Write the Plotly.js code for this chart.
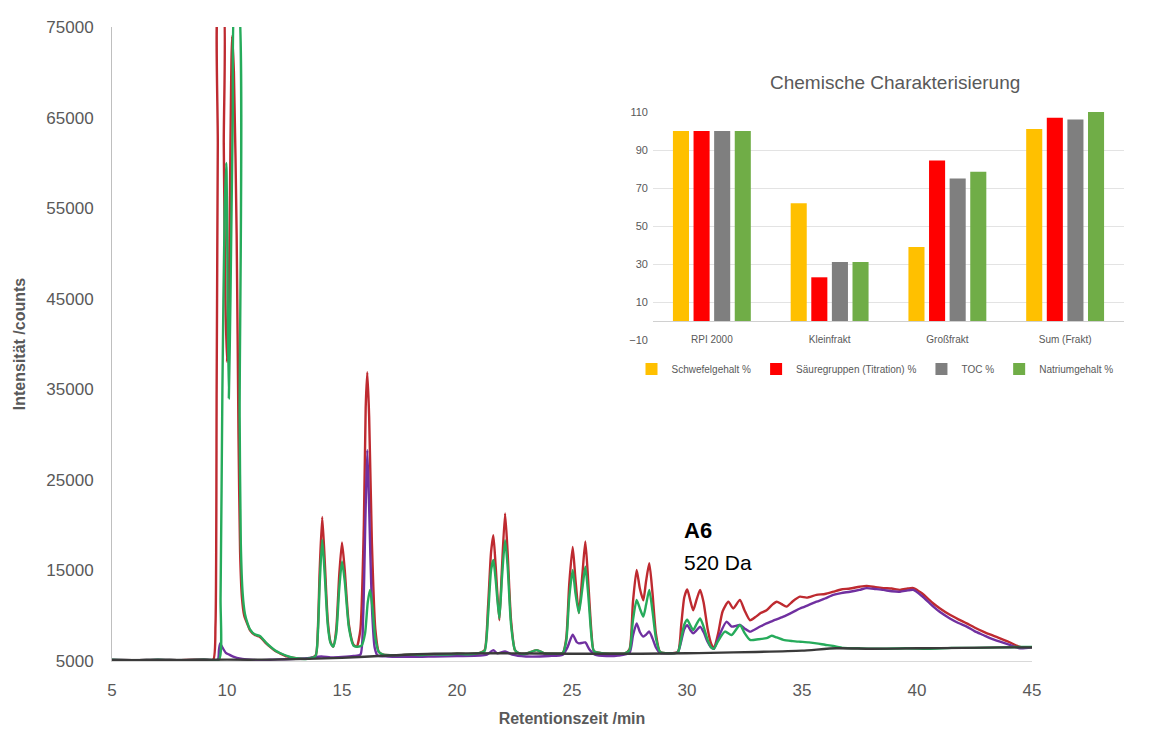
<!DOCTYPE html>
<html>
<head>
<meta charset="utf-8">
<script src="https://cdn.plot.ly/plotly-3.0.1.min.js"></script>
<style>html,body{margin:0;padding:0;background:#fff;}#chart{width:1169px;height:729px;}</style>
</head>
<body>
<div id="chart"></div>
<script>
// ---- Chromatogram (main chart) ----
const redT = [5.0,6.0,7.0,8.0,9.0,9.4,9.5,9.55,9.6,9.64,9.82,9.86,9.93,10.0,10.08,10.15,10.22,10.3,10.42,10.5,10.57,10.65,10.75,10.9,11.0,11.2,11.4,11.5,11.7,11.9,12.1,12.3,12.6,13.0,13.5,13.85,13.95,14.03,14.14,14.25,14.38,14.5,14.62,14.75,14.88,15.0,15.12,15.3,15.5,15.64,15.8,15.95,16.03,16.1,16.18,16.3,16.45,16.6,16.8,17.5,18.0,18.5,19.0,19.5,20.0,20.5,21.0,21.2,21.35,21.48,21.58,21.68,21.84,21.95,22.09,22.2,22.35,22.52,22.7,23.0,23.46,23.8,24.2,24.6,24.75,24.88,25.03,25.15,25.3,25.45,25.58,25.7,25.85,25.95,26.3,26.8,27.3,27.5,27.65,27.81,27.95,28.1,28.22,28.36,28.5,28.65,28.83,29.2,29.6,29.75,29.88,30.01,30.15,30.27,30.42,30.57,30.72,30.9,31.05,31.17,31.35,31.55,31.8,32.01,32.3,32.5,32.74,33.0,33.2,33.46,33.7,33.9,34.1,34.33,34.6,34.91,35.2,35.63,36.0,36.36,36.7,37.09,37.5,37.81,38.2,38.54,38.9,39.26,39.6,39.84,40.2,40.71,41.0,41.43,41.8,42.16,42.5,42.88,43.2,43.61,44.0,44.48,45.0];
const redI = [5150,5100,5150,5100,5150,5150,9000,35000,62000,78000,78000,62000,45000,38000,45000,62000,74000,70000,52000,30000,17000,12000,10000,9000,8400,7900,7700,7500,6950,6500,6100,5850,5500,5300,5250,5600,8500,15000,20900,16000,9500,7100,6600,8500,14500,18100,15000,9000,6800,6600,8500,20000,33000,36900,32000,18000,8500,6000,5700,5650,5700,5650,5750,5700,5800,5750,5900,6200,11000,17000,18900,15500,9500,15000,21300,17000,9500,6200,5850,5800,6200,5850,5800,5900,7500,13500,17600,14000,10300,14500,18200,14000,8000,6100,5850,5800,5850,6300,11500,15050,13000,11700,13800,15800,12500,8000,6000,5850,6000,9000,12000,12900,11600,10600,11800,12850,11500,8500,6900,6400,8000,10500,11550,10800,11750,10600,9500,9900,10300,10600,11200,11550,11300,11000,11600,12100,12000,12300,12400,12650,12900,13000,13200,13300,13150,13050,13000,12850,13000,13050,12500,11350,10800,10100,9600,9150,8700,8250,7900,7500,7100,6550,6500];

const greenT = [5.0,6.0,7.0,8.0,9.0,9.65,9.72,9.8,9.9,9.97,10.03,10.08,10.15,10.25,10.35,10.48,10.55,10.6,10.68,10.78,10.9,11.0,11.2,11.43,11.55,11.73,11.9,12.1,12.3,12.7,13.0,13.5,13.85,13.95,14.03,14.14,14.25,14.38,14.5,14.62,14.75,14.88,15.0,15.12,15.3,15.5,15.64,15.85,16.0,16.12,16.22,16.32,16.45,16.6,16.8,17.5,18.0,18.5,19.0,19.5,20.0,20.5,21.0,21.2,21.35,21.48,21.58,21.68,21.84,21.95,22.09,22.2,22.35,22.52,22.7,23.0,23.46,23.8,24.2,24.6,24.75,24.88,25.03,25.15,25.3,25.45,25.58,25.7,25.85,25.95,26.3,26.8,27.3,27.5,27.65,27.81,27.95,28.1,28.22,28.36,28.5,28.65,28.83,29.2,29.6,29.75,29.88,30.01,30.15,30.27,30.42,30.57,30.72,30.9,31.05,31.17,31.35,31.65,31.94,32.3,32.5,32.74,33.1,33.46,33.68,33.9,34.19,34.6,34.91,35.3,35.63,36.0,36.36,36.8,37.5,38.5,39.5,40.5,41.5,42.5,43.5,44.5,45.0];
const greenI = [5150,5100,5150,5100,5150,5150,12000,35000,55000,60000,45000,34000,45000,65000,78000,78000,32000,18000,12500,10200,9100,8500,7950,7750,7450,6950,6550,6150,5880,5480,5300,5250,5550,8000,13500,18400,14500,9000,7000,6580,8000,13000,16000,13800,8700,6700,6580,6700,8000,11500,12850,11000,7500,6000,5700,5650,5700,5650,5750,5700,5800,5750,5900,6100,10000,15000,16150,14000,9700,14000,18350,15500,9000,6200,5850,5800,6200,5850,5800,5900,7200,12000,15050,12500,10300,13000,15400,12500,7600,6100,5850,5800,5850,6200,9500,11750,10800,9900,11200,12850,10500,7500,6000,5850,5950,7500,9000,9550,8900,8420,9100,9700,8800,7300,6500,6350,7200,8250,7870,8980,8100,7330,7400,7520,7780,7600,7330,7200,7130,7050,6950,6800,6660,6450,6400,6350,6400,6350,6450,6450,6500,6550,6550];

const purpleT = [5.0,6.0,7.0,8.0,9.0,9.6,9.65,9.7,9.8,9.95,10.1,10.27,10.6,11.0,11.5,12.0,12.5,13.0,13.5,14.1,14.5,15.0,15.5,15.8,15.92,16.02,16.1,16.18,16.3,16.42,16.55,17.0,18.0,19.0,20.0,21.0,21.3,21.58,21.75,22.09,22.4,23.0,24.0,24.6,24.8,25.03,25.2,25.3,25.45,25.58,25.75,26.0,26.5,27.0,27.5,27.65,27.81,27.95,28.1,28.22,28.36,28.5,28.65,28.83,29.3,29.6,29.75,29.88,30.01,30.15,30.27,30.42,30.57,30.72,30.9,31.05,31.17,31.4,31.72,31.94,32.3,32.5,32.74,33.1,33.46,33.8,34.19,34.6,34.91,35.3,35.63,36.0,36.36,36.7,37.09,37.5,37.81,38.2,38.54,38.9,39.26,39.6,39.84,40.2,40.71,41.0,41.43,41.8,42.16,42.5,42.88,43.2,43.61,44.0,44.48,45.0];
const purpleI = [5150,5100,5150,5100,5150,5150,6200,6950,6500,5900,5700,5480,5250,5150,5100,5150,5200,5250,5300,5500,5400,5450,5550,5700,10000,21000,28300,22000,11000,6500,5600,5500,5450,5500,5550,5600,5700,6200,5850,6050,5700,5500,5550,5700,6500,7900,7100,6950,7000,7050,6300,5700,5550,5600,5900,7800,9150,8200,7700,7900,8250,7500,6500,5900,5850,5950,7200,8500,8950,8400,8050,8400,8800,8200,7100,6500,6350,7800,9350,8800,8970,8600,8240,8700,9160,9500,9900,10400,10800,11200,11550,11900,12300,12500,12650,12850,13050,12950,12850,12700,12650,12800,12850,12200,11000,10400,9700,9200,8800,8300,7870,7500,7130,6800,6400,6500];

const blackT = [5.0,8.0,10.0,12.0,15.0,17.0,19.0,22.0,25.0,28.0,30.0,31.0,33.0,35.0,36.5,38.0,40.0,42.0,44.0,45.0];
const blackI = [5100,5120,5150,5150,5350,5600,5800,5850,5800,5800,5850,5900,6000,6150,6400,6350,6400,6450,6500,6500];

const yTicks = [5000, 15000, 25000, 35000, 45000, 55000, 65000, 75000];
const yTickLabels = ["5000", "15000", "25000", "35000", "45000", "55000", "65000", "75000"];
const xTicks = [5, 10, 15, 20, 25, 30, 35, 40, 45];

// ---- Inset bar chart ----
const insetTitle = "Chemische Charakterisierung";
const categories = ["RPI 2000", "Kleinfrakt", "Großfrakt", "Sum (Frakt)"];
const seriesNames = ["Schwefelgehalt %", "Säuregruppen (Titration) %", "TOC %", "Natriumgehalt %"];
const schwefel = [100, 62, 39, 101];
const saeure = [100, 23, 84.5, 107];
const toc = [100, 31, 75, 106];
const natrium = [100, 31, 78.5, 110];
const barColors = ["#FFC000", "#FF0000", "#7F7F7F", "#70AD47"];

const FONT = "Liberation Sans, Arial, sans-serif";
const GREY = "#595959";

function line(x, y, color) {
  return {type: "scatter", mode: "lines", x: x, y: y, xaxis: "x", yaxis: "y",
          line: {color: color, width: 2.4, shape: "spline", smoothing: 0.6},
          showlegend: false, hoverinfo: "skip"};
}

const traces = [
  line(redT, redI, "#BE2A30"),
  line(purpleT, purpleI, "#7030A0"),
  line(greenT, greenI, "#26AB5B"),
  line(blackT, blackI, "#3a3a3a"),
];

const barData = [schwefel, saeure, toc, natrium];
barData.forEach((vals, i) => {
  traces.push({type: "bar", x: categories, y: vals, name: seriesNames[i],
               xaxis: "x2", yaxis: "y2", marker: {color: barColors[i]}, hoverinfo: "skip"});
});

const W = 1169, H = 729;
const mL = 112, mR = 40, mT = 27, mB = 68;
const pw = W - mL - mR, ph = H - mT - mB;
const px = v => (v - mL) / pw;
const py = v => (H - mB - v) / ph;

const layout = {
  width: W, height: H,
  margin: {l: mL, r: mR, t: mT, b: mB, pad: 0},
  paper_bgcolor: "#fff", plot_bgcolor: "#fff",
  font: {family: FONT, color: GREY},
  showlegend: true,
  barmode: "group", bargap: 0.3, bargroupgap: 0.22,
  xaxis: {
    domain: [0, px(1032)], range: [5, 45], tickvals: xTicks,
    showgrid: false, zeroline: false, showline: true, linecolor: "#D9D9D9", linewidth: 1,
    ticks: "", ticklabelstandoff: 14, tickfont: {size: 17, color: GREY, family: FONT},
    title: {text: "<b>Retentionszeit /min</b>", font: {size: 16, color: GREY, family: FONT}, standoff: 13}
  },
  yaxis: {
    domain: [0, 1], range: [5000, 75000], tickvals: yTicks, ticktext: yTickLabels,
    showgrid: false, zeroline: false, showline: true, linecolor: "#BFBFBF", linewidth: 1,
    ticks: "", ticklabelstandoff: 14, tickfont: {size: 17, color: GREY, family: FONT},
    title: {text: "<b>Intensität /counts</b>", font: {size: 16, color: GREY, family: FONT}, standoff: 16}
  },
  xaxis2: {
    domain: [px(653), px(1124)], anchor: "y2", type: "category",
    showgrid: false, zeroline: false, showline: false, ticks: "",
    tickfont: {size: 10, color: GREY, family: FONT}, ticklabelstandoff: -8
  },
  yaxis2: {
    domain: [py(340), py(112)], anchor: "x2", range: [-10, 110], tick0: -10, dtick: 20,
    showgrid: true, gridcolor: "#E3E3E3", gridwidth: 1,
    zeroline: true, zerolinecolor: "#D0D0D0", zerolinewidth: 1,
    showline: false, ticks: "", ticklabelstandoff: 4, tickfont: {size: 11, color: GREY, family: FONT}
  },
  legend: {
    orientation: "h", x: px(875), xanchor: "center", y: py(369), yanchor: "middle",
    font: {size: 10, color: GREY, family: FONT}, bgcolor: "rgba(0,0,0,0)",
    itemwidth: 30, tracegroupgap: 0
  },
  annotations: [
    {text: insetTitle, xref: "paper", yref: "paper", x: px(895), y: py(82),
     xanchor: "center", yanchor: "middle", showarrow: false,
     font: {size: 19, color: GREY, family: FONT}},
    {text: "<b>A6</b>", xref: "x", yref: "y", x: 29.78, y: 19464,
     xanchor: "left", yanchor: "middle", showarrow: false,
     font: {size: 22, color: "#000", family: FONT}},
    {text: "520 Da", xref: "x", yref: "y", x: 29.78, y: 15931,
     xanchor: "left", yanchor: "middle", showarrow: false,
     font: {size: 21, color: "#000", family: FONT}}
  ]
};

Plotly.newPlot("chart", traces, layout, {displayModeBar: false, staticPlot: true});
</script>
</body>
</html>
